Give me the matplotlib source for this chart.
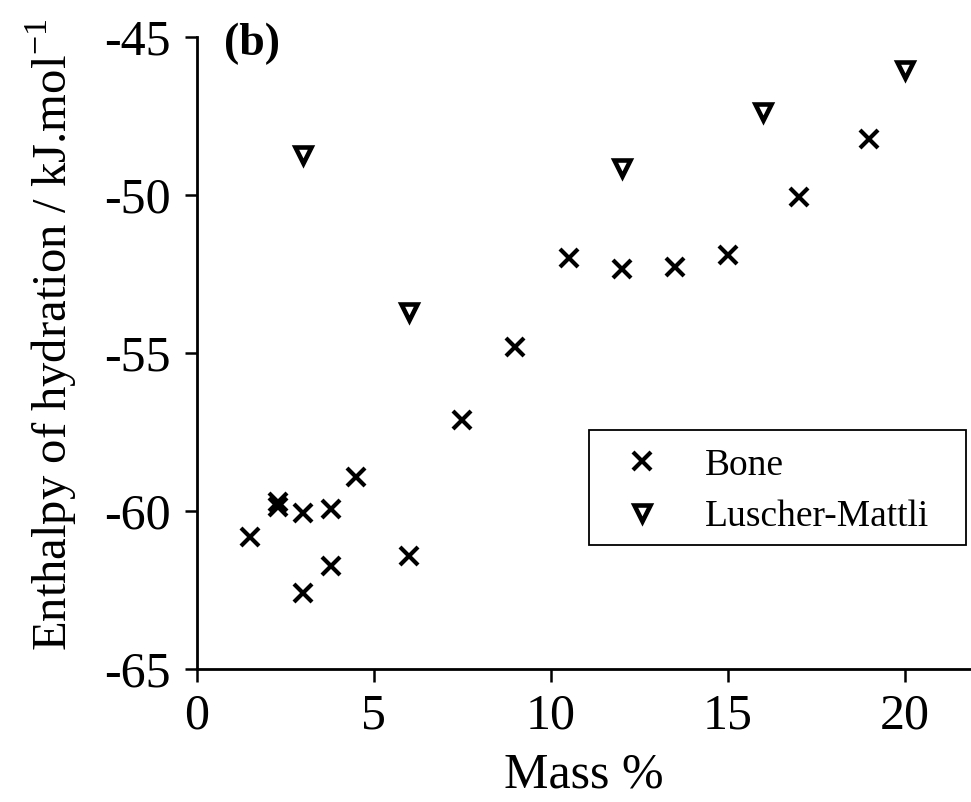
import matplotlib
matplotlib.use("Agg")
import matplotlib.pyplot as plt
from matplotlib.patches import Rectangle

plt.rcParams['font.family'] = ['Liberation Serif', 'DejaVu Serif']
plt.rcParams['mathtext.fontset'] = 'custom'
plt.rcParams['mathtext.rm'] = 'Liberation Serif'

bone_x = [1.5, 2.3, 2.3, 3.0, 3.8, 3.0, 3.8, 6.0, 4.5, 7.5, 9.0, 10.5, 12.0, 13.5, 15.0, 17.0, 19.0]
bone_y = [-60.82, -59.71, -59.86, -60.07, -59.95, -62.58, -61.73, -61.42, -58.93, -57.12, -54.82, -51.99, -52.35, -52.29, -51.89, -50.05, -48.23]
lm_x = [3.0, 6.0, 12.0, 16.0, 20.0]
lm_y = [-48.73, -53.69, -49.16, -47.36, -46.04]

xticks = [0, 5, 10, 15, 20]
yticks = [-65, -60, -55, -50, -45]

fig = plt.figure(figsize=(9.71, 8.02), dpi=100)
ax = fig.add_axes([0.2029, 0.1658, 0.797, 0.7881])

ax.plot(bone_x, bone_y, linestyle='none', marker='x', markersize=12.5,
        markeredgewidth=3.0, color='black', label='Bone', clip_on=False)
ax.plot(lm_x, lm_y, linestyle='none', marker='v', markersize=11,
        markeredgewidth=3.3, markerfacecolor='white', markeredgecolor='black',
        label='Luscher-Mattli', clip_on=False)

ax.set_xlim(0, 21.87)
ax.set_ylim(-65, -45)
ax.set_xticks(xticks)
ax.set_yticks(yticks)
ax.set_xticklabels([str(t) for t in xticks])
ax.set_yticklabels([str(t) for t in yticks])

for s in ['top', 'right']:
    ax.spines[s].set_visible(False)
for s in ['left', 'bottom']:
    ax.spines[s].set_linewidth(2.0)
ax.tick_params(axis='both', direction='out', length=9, width=1.8,
               labelsize=36, colors='black')
ax.tick_params(axis='y', pad=10)
ax.tick_params(axis='x', pad=8)

ax.set_xlabel('Mass %', fontsize=36, labelpad=9)
ax.set_ylabel('Enthalpy of hydration / kJ.mol$^{-1}$', fontsize=35)
ax.yaxis.set_label_coords(-0.152, 0.528)

ax.text(0.75, -45.57, '(b)', fontsize=33, fontweight='bold', ha='left', va='baseline')

leg = ax.legend(loc='upper left', bbox_to_anchor=(0.5071, 0.3734), fontsize=27,
                frameon=False, handlelength=2.0, handletextpad=0.67,
                borderpad=0.4, labelspacing=0.45, borderaxespad=0)
ax.add_patch(Rectangle((0.5071, 0.1962), 0.9935 - 0.5071, 0.3782 - 0.1962,
                       transform=ax.transAxes, fill=False, edgecolor='black',
                       linewidth=1.3, clip_on=False))

fig.savefig('out.png', dpi=100)
